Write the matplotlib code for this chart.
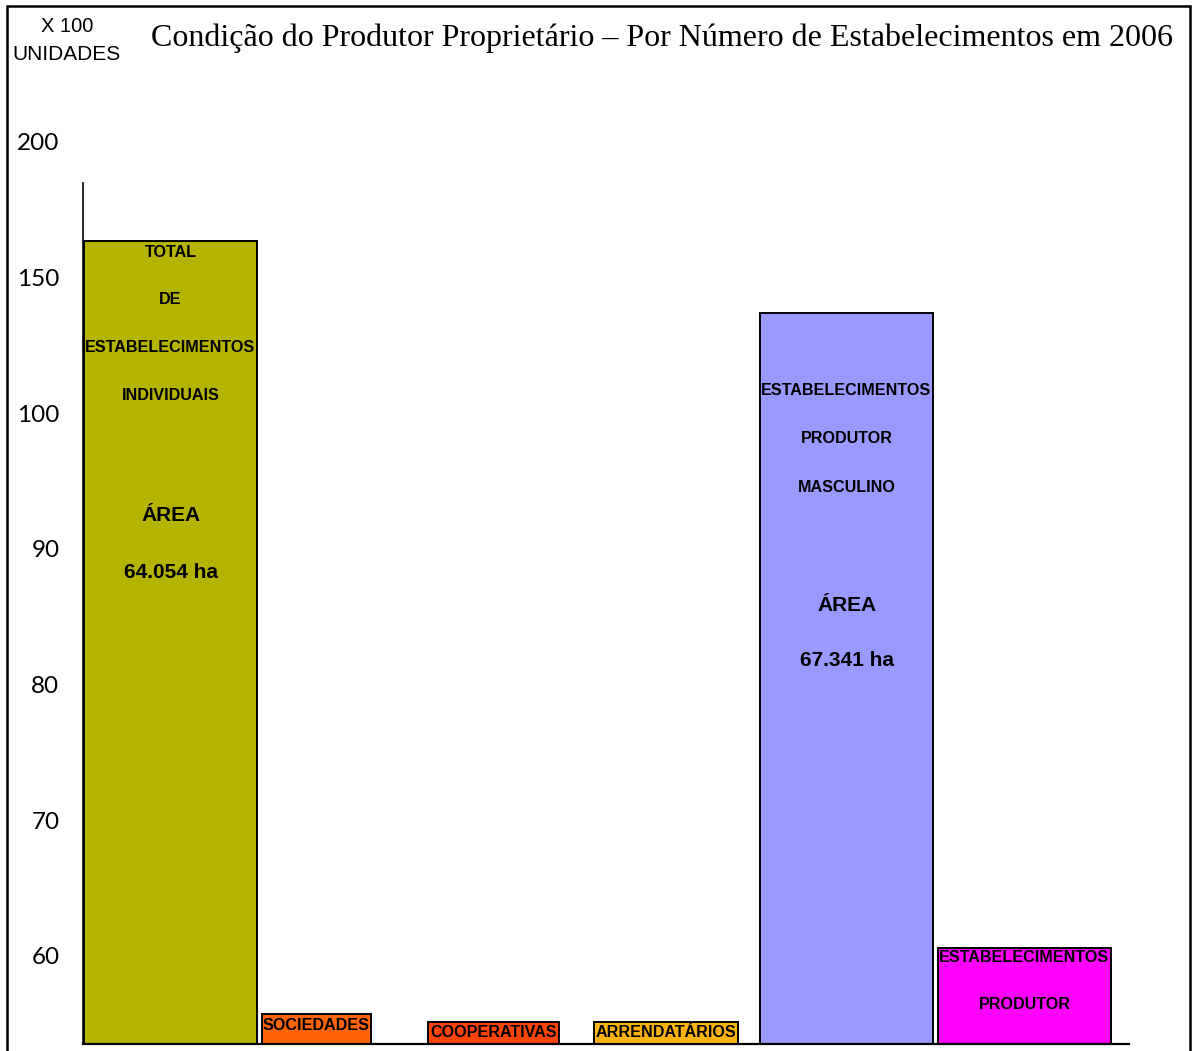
import numpy as np
import matplotlib.pyplot as plt
import matplotlib as mpl
from matplotlib.patches import Rectangle

mpl.rcParams['figure.dpi'] = 100

# valores em "x 100 unidades"
categories = ['Individuais', 'Sociedades', 'Cooperativas', 'Arrendatários',
              'Produtor masculino', 'Produtor feminino']
values = [163.5, 55.7, 55.1, 55.1, 137.0, 60.6]
ytick_values = [60, 70, 80, 90, 100, 150, 200]
bar_texts = [
    ['TOTAL', 'DE', 'ESTABELECIMENTOS', 'INDIVIDUAIS'],
    ['SOCIEDADES'],
    ['COOPERATIVAS'],
    ['ARRENDATÁRIOS'],
    ['ESTABELECIMENTOS', 'PRODUTOR', 'MASCULINO'],
    ['ESTABELECIMENTOS', 'PRODUTOR'],
]
area_texts = ['64.054 ha', None, None, None, '67.341 ha', None]

# layout (unidades do eixo x), cores e posicoes dos textos em pixels
lefts = [1, 179, 345, 511, 677, 855]
widths = [173, 109, 131, 144, 173, 173]
colors = ['#B3B300', '#FF6408', '#FF440A', '#FFB30F', '#9999FF', '#FF00FF']
text_offsets = [[-11, -58, -106, -154], [-11], [-10], [-10],
                [-78, -126, -175], [-10, -57]]
area_offsets = [(-274, -331), None, None, None, (-293, -348), None]

#=============#
# escala do eixo y: marcas igualmente espacadas, valores nao lineares
nodes_val = np.array([0, 60, 70, 80, 90, 100, 150, 200, 300], dtype=float)
nodes_idx = np.array([-6, 0, 1, 2, 3, 4, 5, 6, 8], dtype=float)


def forward(v):
    return np.interp(v, nodes_val, nodes_idx)


def inverse(i):
    return np.interp(i, nodes_idx, nodes_val)


W, H = 1195, 1051
fig = plt.figure(figsize=(W / 100, H / 100))
ax = fig.add_axes([83 / W, 7 / H, (1129 - 83) / W, (931 - 7) / H])
ax.set_yscale('function', functions=(forward, inverse))
ax.set_ylim(inverse(-(1044 - 956) / 135.67), inverse((956 - 120) / 135.67))
ax.set_xlim(0, 1046)

ax.bar(lefts, values, width=widths, align='edge', color=colors,
       edgecolor='black', linewidth=1.4, bottom=0, zorder=2)

for k in range(len(categories)):
    cx = lefts[k] + widths[k] / 2
    for line, off in zip(bar_texts[k], text_offsets[k]):
        ax.annotate(line, xy=(cx, values[k]), xytext=(0, off),
                    textcoords='offset pixels', ha='center', va='center',
                    fontsize=11.6, fontweight='bold', family='Liberation Sans',
                    zorder=3)
    if area_texts[k] is not None:
        ax.annotate('ÁREA', xy=(cx, values[k]), xytext=(0, area_offsets[k][0]),
                    textcoords='offset pixels', ha='center', va='center',
                    fontsize=15, fontweight='bold', family='Liberation Sans')
        ax.annotate(area_texts[k], xy=(cx, values[k]), xytext=(0, area_offsets[k][1]),
                    textcoords='offset pixels', ha='center', va='center',
                    fontsize=15, fontweight='bold', family='Liberation Sans')

ax.set_yticks(ytick_values)
ax.set_yticklabels([str(v) for v in ytick_values], family='Lato', fontsize=17.5)
ax.yaxis.set_minor_locator(mpl.ticker.NullLocator())
ax.tick_params(axis='y', length=0, pad=17)
ax.set_xticks([])

for s in ['top', 'right']:
    ax.spines[s].set_visible(False)
ax.spines['left'].set_bounds(ax.get_ylim()[0], inverse((956 - 183) / 135.67))
ax.spines['left'].set_linewidth(1.2)
ax.spines['bottom'].set_linewidth(1.6)

# moldura
fig.add_artist(Rectangle((7 / W, -0.05), (1190 - 7) / W, 0.05 + (H - 6) / H,
                         transform=fig.transFigure, fill=False,
                         edgecolor='black', linewidth=1.8))

fig.text(662 / W, 1 - 38 / H,
         'Condição do Produtor Proprietário – Por Número de Estabelecimentos em 2006',
         ha='center', va='center', family='Liberation Serif', fontsize=23)
fig.text(67 / W, 1 - 27 / H, 'X 100', ha='center', va='center',
         family='Liberation Sans', fontsize=14.5)
fig.text(66 / W, 1 - 54 / H, 'UNIDADES', ha='center', va='center',
         family='Liberation Sans', fontsize=15)

fig.savefig('out.png', dpi=100)
